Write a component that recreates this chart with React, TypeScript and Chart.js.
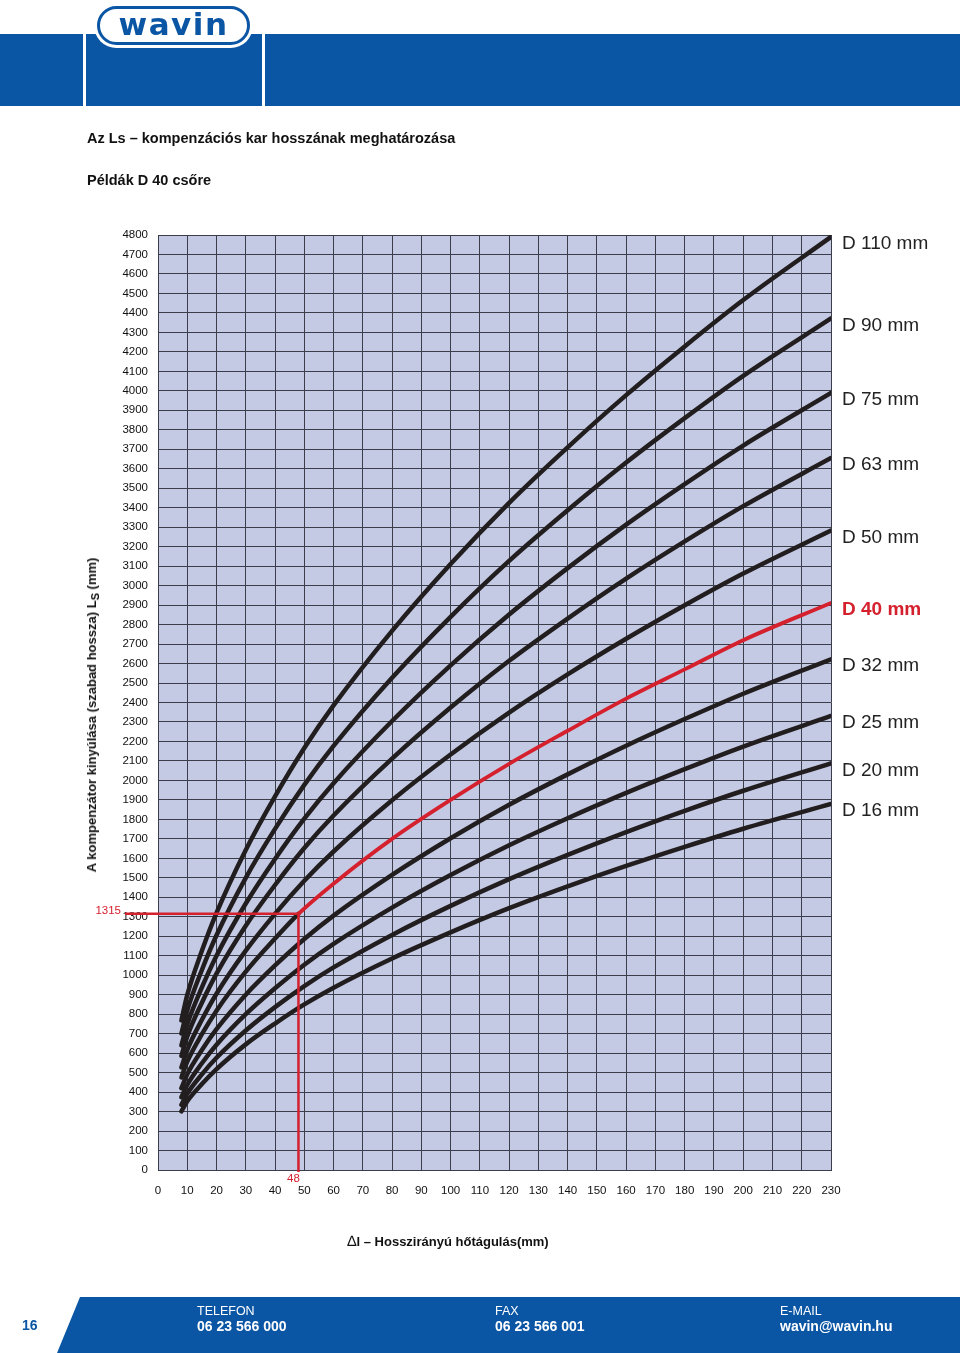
import React, { useEffect, useRef } from 'react';
import { Chart, registerables } from 'chart.js';

Chart.register(...registerables);

const FONT = '"Liberation Sans", Arial, Helvetica, sans-serif';
const BLUE = '#0b56a4';
const RED = '#d5202e';
const CURVE = '#221e1f';
const GRID = '#3b3d4a';
const PLOT_BG = '#c4cae3';

// ΔL values (mm) at which the curves were read
const DL = [8, 10, 15, 20, 30, 40, 50, 60, 80, 100, 120, 140, 160, 180, 200, 230];
const DL_D40 = [8, 10, 15, 20, 30, 40, 48, 60, 80, 100, 120, 140, 160, 180, 200, 230];

// Ls values (mm)
const LS_D110 = [768, 899, 1125, 1320, 1643, 1918, 2166, 2385, 2768, 3111, 3425, 3710, 3978, 4228, 4466, 4790];
const LS_D90 = [701, 820, 1027, 1205, 1500, 1751, 1977, 2177, 2527, 2840, 3127, 3387, 3632, 3860, 4077, 4372];
const LS_D75 = [640, 748, 937, 1100, 1368, 1597, 1804, 1986, 2305, 2591, 2852, 3090, 3313, 3521, 3719, 3989];
const LS_D63 = [586, 686, 859, 1008, 1254, 1463, 1653, 1820, 2112, 2374, 2614, 2831, 3036, 3227, 3408, 3655];
const LS_D50 = [527, 616, 771, 905, 1126, 1315, 1485, 1635, 1898, 2133, 2348, 2544, 2727, 2899, 3062, 3283];
const LS_D40 = [475, 556, 697, 818, 1018, 1188, 1315, 1470, 1700, 1900, 2085, 2255, 2420, 2570, 2720, 2911];
const LS_D32 = [420, 492, 616, 723, 900, 1050, 1186, 1306, 1515, 1703, 1875, 2031, 2178, 2315, 2445, 2622];
const LS_D25 = [374, 437, 548, 643, 800, 933, 1054, 1161, 1347, 1514, 1667, 1806, 1936, 2058, 2174, 2331];
const LS_D20 = [335, 392, 491, 576, 716, 836, 944, 1040, 1207, 1356, 1493, 1618, 1735, 1844, 1947, 2088];
const LS_D16 = [301, 353, 441, 518, 645, 752, 850, 936, 1086, 1220, 1344, 1456, 1561, 1659, 1752, 1879];

const SERIES_LABELS = ['D 110 mm', 'D 90 mm', 'D 75 mm', 'D 63 mm', 'D 50 mm', 'D 40 mm', 'D 32 mm', 'D 25 mm', 'D 20 mm', 'D 16 mm'];
const SERIES_VALUES = [LS_D110, LS_D90, LS_D75, LS_D63, LS_D50, LS_D40, LS_D32, LS_D25, LS_D20, LS_D16];
const HIGHLIGHT = 'D 40 mm';

// Example reading
const EXAMPLE_DL = 48;
const EXAMPLE_LS = 1315;

const X_MIN = 0, X_MAX = 230, X_STEP = 10;
const Y_MIN = 0, Y_MAX = 4800, Y_STEP = 100;

const bgPlugin = {
  id: 'plotBg',
  beforeDraw(chart: any) {
    const { ctx, chartArea } = chart;
    ctx.save();
    ctx.fillStyle = PLOT_BG;
    ctx.fillRect(chartArea.left, chartArea.top, chartArea.right - chartArea.left, chartArea.bottom - chartArea.top);
    ctx.restore();
  },
};

const annotPlugin = {
  id: 'annot',
  afterDatasetsDraw(chart: any) {
    const { ctx, chartArea, scales } = chart;
    const px = scales.x.getPixelForValue(EXAMPLE_DL);
    const py = scales.y.getPixelForValue(EXAMPLE_LS);
    ctx.save();
    ctx.strokeStyle = RED;
    ctx.lineWidth = 2.5;
    ctx.beginPath();
    ctx.moveTo(chartArea.left - 33, py);
    ctx.lineTo(px, py);
    ctx.moveTo(px, py);
    ctx.lineTo(px, chartArea.bottom + 2);
    ctx.stroke();
    ctx.fillStyle = RED;
    ctx.font = `11.5px ${FONT}`;
    ctx.textBaseline = 'middle';
    ctx.textAlign = 'right';
    ctx.fillText(String(EXAMPLE_LS), chartArea.left - 37, py - 3);
    ctx.textAlign = 'center';
    ctx.fillText(String(EXAMPLE_DL), px - 5, chartArea.bottom + 9);
    ctx.restore();
  },
};

const labelPlugin = {
  id: 'endLabels',
  afterDatasetsDraw(chart: any) {
    const { ctx, chartArea } = chart;
    ctx.save();
    ctx.textBaseline = 'middle';
    ctx.textAlign = 'left';
    chart.data.datasets.forEach((ds: any, i: number) => {
      const meta = chart.getDatasetMeta(i);
      const last = meta.data[meta.data.length - 1];
      if (!last) return;
      const hi = ds.label === HIGHLIGHT;
      ctx.fillStyle = hi ? RED : '#222';
      ctx.font = `${hi ? 'bold ' : ''}19px ${FONT}`;
      ctx.fillText(ds.label, chartArea.right + 11, last.y + 7);
    });
    ctx.restore();
  },
};

export default function App() {
  const ref = useRef<HTMLCanvasElement>(null);

  useEffect(() => {
    document.body.style.margin = '0';
    const datasets = SERIES_LABELS.map((label, i) => {
      const xs = label === HIGHLIGHT ? DL_D40 : DL;
      const vals = SERIES_VALUES[i];
      const hi = label === HIGHLIGHT;
      return {
        label,
        data: xs.map((x, j) => ({ x, y: vals[j] })),
        borderColor: CURVE,
        borderWidth: 4.5,
        borderCapStyle: 'round' as const,
        borderJoinStyle: 'round' as const,
        pointRadius: 0,
        fill: false,
        cubicInterpolationMode: 'monotone' as const,
        segment: hi
          ? {
              borderColor: (c: any) => (c.p0.parsed.x >= EXAMPLE_DL ? RED : undefined),
              borderWidth: (c: any) => (c.p0.parsed.x >= EXAMPLE_DL ? 3.8 : undefined),
            }
          : undefined,
      };
    });

    const chart = new Chart(ref.current as HTMLCanvasElement, {
      type: 'line',
      data: { datasets: datasets as any },
      options: {
        responsive: false,
        animation: false,
        devicePixelRatio: 1,
        layout: { padding: { left: 98, right: 129, top: 235, bottom: 1353 - 1170 - 40 } },
        plugins: { legend: { display: false }, tooltip: { enabled: false }, title: { display: false } },
        elements: { point: { radius: 0 } },
        scales: {
          x: {
            type: 'linear',
            min: X_MIN,
            max: X_MAX,
            ticks: {
              stepSize: X_STEP,
              autoSkip: false,
              maxRotation: 0,
              padding: 14,
              color: '#111',
              font: { family: FONT, size: 11.5 },
              callback: (v: any) => String(v),
            },
            grid: { color: GRID, lineWidth: 1, drawTicks: false },
            border: { color: GRID, width: 1 },
            afterFit: (s: any) => {
              s.height = 40;
            },
          },
          y: {
            type: 'linear',
            min: Y_MIN,
            max: Y_MAX,
            ticks: {
              stepSize: Y_STEP,
              autoSkip: false,
              padding: 10,
              color: '#111',
              font: { family: FONT, size: 11.5 },
              callback: (v: any) => String(v),
            },
            grid: { color: GRID, lineWidth: 1, drawTicks: false },
            border: { color: GRID, width: 1 },
            afterFit: (s: any) => {
              s.width = 60;
            },
          },
        },
      },
      plugins: [bgPlugin, annotPlugin, labelPlugin],
    } as any);
    return () => chart.destroy();
  }, []);

  const abs = (o: React.CSSProperties): React.CSSProperties => ({ position: 'absolute', ...o });

  return (
    <div style={{ position: 'absolute', left: 0, top: 0, width: 960, height: 1353, overflow: 'hidden', fontFamily: FONT, background: '#fff' }}>
      <canvas ref={ref} width={960} height={1353} style={abs({ left: 0, top: 0, width: 960, height: 1353 })} />

      {/* header band */}
      <div style={abs({ left: 0, top: 34, width: 83, height: 72, background: BLUE })} />
      <div style={abs({ left: 86, top: 34, width: 176, height: 72, background: BLUE })} />
      <div style={abs({ left: 265, top: 34, width: 695, height: 72, background: BLUE })} />
      <div
        style={abs({
          left: 97,
          top: 6,
          width: 153,
          height: 39,
          boxSizing: 'border-box',
          border: `3.5px solid ${BLUE}`,
          borderRadius: 20,
          background: '#fff',
          boxShadow: '0 0 0 3px #fff',
          display: 'flex',
          alignItems: 'center',
          justifyContent: 'center',
        })}
      >
        <span style={{ fontFamily: '"DejaVu Sans", sans-serif', fontWeight: 'bold', fontSize: 31, color: BLUE, lineHeight: 1, marginTop: -3, letterSpacing: 1.5 }}>wavin</span>
      </div>

      {/* titles */}
      <div style={abs({ left: 87, top: 130, fontSize: 14.5, fontWeight: 'bold', lineHeight: '16px', color: '#111', whiteSpace: 'nowrap' })}>
        Az Ls – kompenzációs kar hosszának meghatározása
      </div>
      <div style={abs({ left: 87, top: 172, fontSize: 14.5, fontWeight: 'bold', lineHeight: '16px', color: '#111', whiteSpace: 'nowrap' })}>
        Példák D 40 csőre
      </div>

      {/* y axis title */}
      <div
        style={abs({
          left: 92,
          top: 715,
          transform: 'translate(-50%, -50%) rotate(-90deg)',
          fontSize: 13,
          fontWeight: 'bold',
          lineHeight: '16px',
          color: '#111',
          whiteSpace: 'nowrap',
        })}
      >
        A kompenzátor kinyúlása (szabad hossza) L<span style={{ fontSize: 11, position: 'relative', top: 3 }}>S</span> (mm)
      </div>

      {/* x axis title */}
      <div style={abs({ left: 448, top: 1241, transform: 'translate(-50%, -50%)', fontSize: 13, fontWeight: 'bold', lineHeight: '16px', color: '#111', whiteSpace: 'nowrap' })}>
        <span style={{ fontWeight: 'normal', fontSize: 15 }}>∆</span>l – Hosszirányú hőtágulás(mm)
      </div>

      {/* footer */}
      <div style={abs({ left: 0, top: 1297, width: 960, height: 56, background: BLUE, clipPath: 'polygon(80px 0, 960px 0, 960px 56px, 57px 56px)' })} />
      <div style={abs({ left: 22, top: 1317, fontSize: 14, fontWeight: 'bold', lineHeight: '16px', color: BLUE })}>16</div>
      {[
        { x: 197, t: 'TELEFON', v: '06 23 566 000' },
        { x: 495, t: 'FAX', v: '06 23 566 001' },
        { x: 780, t: 'E-MAIL', v: 'wavin@wavin.hu' },
      ].map((f) => (
        <React.Fragment key={f.t}>
          <div style={abs({ left: f.x, top: 1303, fontSize: 12.5, lineHeight: '16px', color: '#fff', whiteSpace: 'nowrap' })}>{f.t}</div>
          <div style={abs({ left: f.x, top: 1318, fontSize: 14, fontWeight: 'bold', lineHeight: '16px', color: '#fff', whiteSpace: 'nowrap' })}>{f.v}</div>
        </React.Fragment>
      ))}
    </div>
  );
}
